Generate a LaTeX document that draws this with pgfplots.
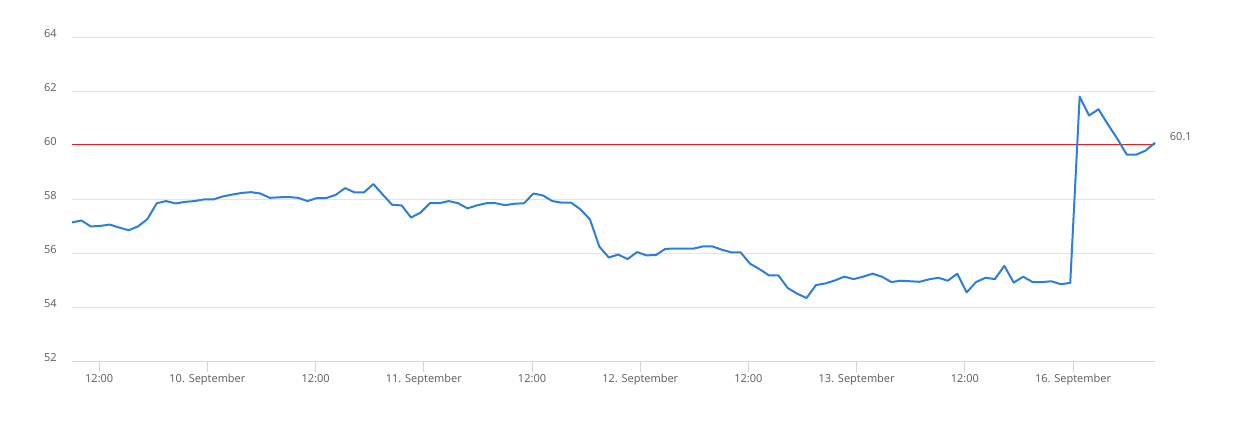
\documentclass[border=0pt]{standalone}
\usepackage{fontspec}
\setmainfont{Open Sans}
\usepackage{pgfplots}
\usepackage{pgfplotstable}
\pgfplotsset{compat=1.18}
\definecolor{serie}{RGB}{44,127,219}
\definecolor{refred}{RGB}{210,40,40}
\definecolor{gridc}{RGB}{228,228,228}
\definecolor{axc}{RGB}{204,214,235}
\definecolor{labc}{RGB}{90,90,90}
\pgfplotstableread{
i v
0 57.17
1 57.24
2 57.02
3 57.04
4 57.09
5 56.98
6 56.88
7 57.02
8 57.29
9 57.88
10 57.96
11 57.87
12 57.93
13 57.96
14 58.02
15 58.02
16 58.13
17 58.20
18 58.26
19 58.29
20 58.24
21 58.08
22 58.10
23 58.11
24 58.08
25 57.96
26 58.07
27 58.07
28 58.19
29 58.44
30 58.28
31 58.28
32 58.59
33 58.20
34 57.82
35 57.80
36 57.35
37 57.53
38 57.88
39 57.88
40 57.96
41 57.88
42 57.69
43 57.80
44 57.88
45 57.88
46 57.81
47 57.86
48 57.88
49 58.24
50 58.17
51 57.96
52 57.90
53 57.90
54 57.65
55 57.28
56 56.27
57 55.87
58 55.98
59 55.81
60 56.07
61 55.95
62 55.96
63 56.19
64 56.20
65 56.20
66 56.20
67 56.28
68 56.28
69 56.16
70 56.06
71 56.06
72 55.64
73 55.44
74 55.21
75 55.21
76 54.74
77 54.53
78 54.37
79 54.85
80 54.91
81 55.02
82 55.16
83 55.07
84 55.16
85 55.27
86 55.16
87 54.96
88 55.01
89 54.99
90 54.97
91 55.06
92 55.12
93 55.01
94 55.27
95 54.58
96 54.96
97 55.12
98 55.07
99 55.56
100 54.94
101 55.16
102 54.96
103 54.96
104 54.99
105 54.88
106 54.93
107 61.83
108 61.13
109 61.36
110 60.80
111 60.27
112 59.68
113 59.68
114 59.83
115 60.12
}\datatable
\begin{document}
\begin{tikzpicture}
\path[use as bounding box] (0,0) rectangle (924.75pt,333.75pt);
\begin{axis}[
  at={(54pt,62.25pt)}, anchor=south west,
  scale only axis, width=812.25pt, height=243pt,
  xmin=0, xmax=115, ymin=52, ymax=64,
  axis x line*=bottom, axis y line*=left,
  x axis line style={draw=axc, line width=0.75pt, -},
  y axis line style={draw=none},
  xtick={2.89,14.38,25.87,37.36,48.85,60.34,71.83,83.32,94.81,106.30},
  xticklabels={12:00,10. September,12:00,11. September,12:00,12. September,12:00,13. September,12:00,16. September},
  tick align=outside, major tick length=7.5pt,
  xtick style={draw=axc, line width=0.75pt},
  ytick={52,54,...,64},
  ymajorgrids, grid style={draw=gridc, line width=0.75pt},
  ytick style={draw=none},
  yticklabel style={anchor=east, xshift=-0.5pt, yshift=3.5pt},
  xticklabel style={yshift=2pt},
  ticklabel style={font=\fontsize{8.25}{10}\selectfont, text=labc},
  /pgf/number format/assume math mode=true,
  clip=false,
]
\addplot[color=refred, line width=0.9pt] coordinates {(0,60.07) (115,60.07)};
\addplot[draw=serie, line width=1.5pt, line join=round] table[x=i, y=v] {\datatable};
\node[anchor=west, text=labc, font=\fontsize{8.25}{10}\selectfont, inner sep=0pt] at (axis cs:115,60.1) [xshift=11pt, yshift=5pt] {60.1};
\end{axis}
\end{tikzpicture}
\end{document}
